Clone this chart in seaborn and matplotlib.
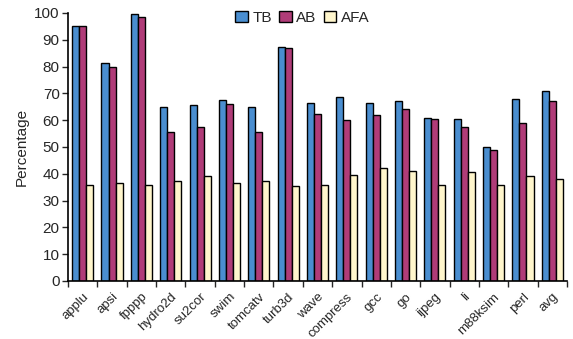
import numpy as np
import pandas as pd
import matplotlib
matplotlib.use("Agg")
import matplotlib.pyplot as plt
import seaborn as sns

benchmarks = ["applu", "apsi", "fpppp", "hydro2d", "su2cor", "swim", "tomcatv",
              "turb3d", "wave", "compress", "gcc", "go", "ijpeg", "li",
              "m88ksim", "perl", "avg"]
tb = [95, 81.5, 99.5, 65, 65.5, 67.5, 65, 87.5, 66.5, 68.5, 66.5, 67, 61, 60.5, 50, 68, 71]
ab = [95, 80, 98.5, 55.5, 57.5, 66, 55.5, 87, 62.5, 60, 62, 64, 60.5, 57.5, 49, 59, 67]
afa = [36, 36.5, 36, 37.5, 39, 36.5, 37.5, 35.5, 36, 39.5, 42, 41, 36, 40.5, 36, 39, 38]
series = ["TB", "AB", "AFA"]
colors = ["#4A8ED0", "#B03C78", "#FFF6CC"]

df = pd.DataFrame({
    "bench": benchmarks * 3,
    "value": tb + ab + afa,
    "scheme": [s for s in series for _ in benchmarks],
})

sns.set_style("white")
plt.rcParams["font.family"] = ["Liberation Sans", "DejaVu Sans"]

fig = plt.figure(figsize=(5.73, 3.39), dpi=100)
ax = fig.add_axes([68 / 573, 1 - 281 / 339, (567 - 68) / 573, (281 - 13) / 339])

sns.barplot(data=df, x="bench", y="value", hue="scheme", palette=colors,
            saturation=1, width=0.72, edgecolor="black", linewidth=1, ax=ax,
            legend=True)

ax.set_xlim(-0.5, len(benchmarks) - 0.5)
ax.set_ylim(0, 100)
ax.set_yticks(range(0, 101, 10))
ax.tick_params(axis="y", labelsize=11, length=4, width=1, direction="out", left=True, pad=2)
ax.set_ylabel("Percentage", fontsize=11)
ax.set_xlabel("")

# category labels on major ticks (no marks), tick marks on group boundaries
ax.set_xticks(range(len(benchmarks)))
ax.set_xticklabels(benchmarks, rotation=45, ha="right", rotation_mode="anchor", fontsize=9.5)
ax.tick_params(axis="x", which="major", length=0, pad=7)
ax.set_xticks(np.arange(-0.5, len(benchmarks), 1), minor=True)
ax.tick_params(axis="x", which="minor", length=4, width=1, direction="out", bottom=True)

for side in ["top", "right"]:
    ax.spines[side].set_visible(False)
for side in ["left", "bottom"]:
    ax.spines[side].set_color("black")
    ax.spines[side].set_linewidth(1.2)

ax.legend(title=None, loc="upper center", bbox_to_anchor=(0.47, 1.06), ncol=3,
          frameon=False, fontsize=11, handlelength=0.8, handleheight=0.8,
          handletextpad=0.3, columnspacing=0.5)

fig.savefig("out.png", dpi=100)
